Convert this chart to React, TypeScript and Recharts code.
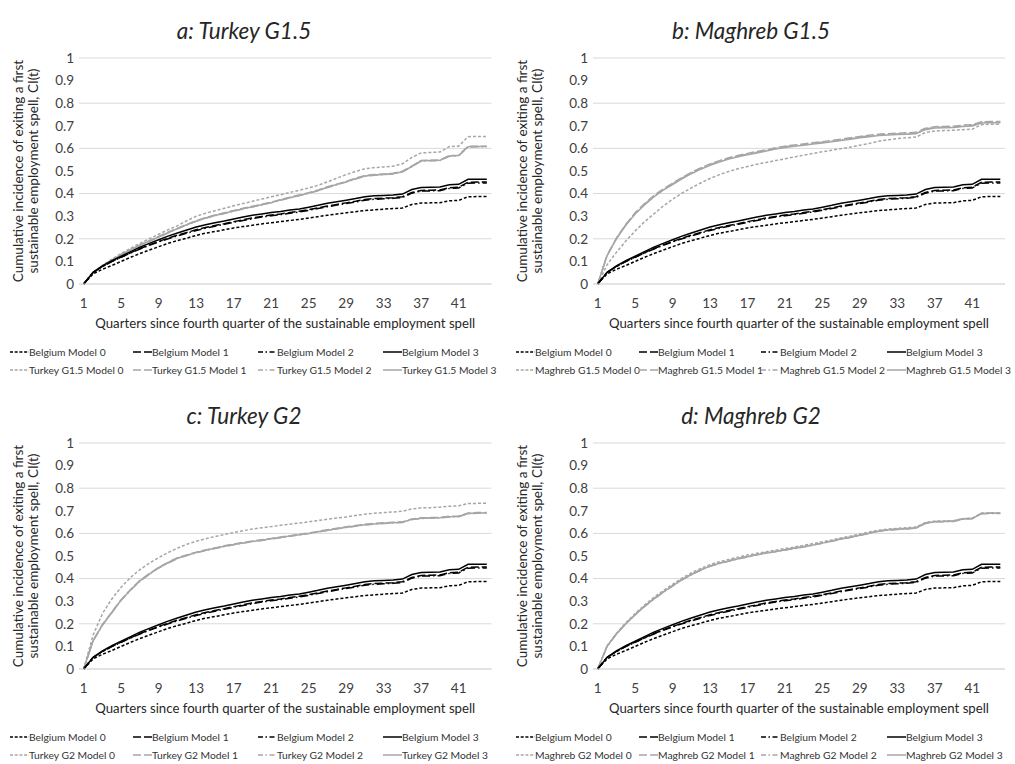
import React from 'react';
import { LineChart, Line, XAxis, YAxis, CartesianGrid } from 'recharts';

const QUARTERS = [
  1, 2, 3, 4, 5, 6, 7, 8, 9, 10, 11, 12, 13, 14, 15, 16, 17, 18, 19, 20, 21, 22,
  23, 24, 25, 26, 27, 28, 29, 30, 31, 32, 33, 34, 35, 36, 37, 38, 39, 40, 41, 42, 43, 44,
];
const Y_TICKS = [0, 0.1, 0.2, 0.3, 0.4, 0.5, 0.6, 0.7, 0.8, 0.9, 1];

// Belgium reference curves (same in all four panels)
const BELGIUM_M0 = [0, 0.045, 0.065, 0.082, 0.1, 0.118, 0.135, 0.15, 0.165, 0.18, 0.192, 0.203, 0.215, 0.225, 0.232, 0.24, 0.248, 0.254, 0.26, 0.266, 0.271, 0.276, 0.281, 0.286, 0.292, 0.298, 0.304, 0.31, 0.315, 0.32, 0.325, 0.328, 0.331, 0.334, 0.336, 0.352, 0.358, 0.359, 0.36, 0.368, 0.37, 0.386, 0.387, 0.387];
const BELGIUM_M1 = [0, 0.051, 0.078, 0.1, 0.119, 0.138, 0.157, 0.173, 0.188, 0.203, 0.216, 0.228, 0.24, 0.25, 0.259, 0.267, 0.276, 0.284, 0.292, 0.299, 0.305, 0.31, 0.316, 0.322, 0.329, 0.337, 0.345, 0.352, 0.359, 0.366, 0.374, 0.378, 0.38, 0.382, 0.386, 0.405, 0.414, 0.415, 0.416, 0.426, 0.428, 0.45, 0.451, 0.451];
const BELGIUM_M2 = [0, 0.051, 0.077, 0.099, 0.118, 0.137, 0.155, 0.171, 0.186, 0.2, 0.213, 0.225, 0.237, 0.247, 0.256, 0.264, 0.273, 0.281, 0.289, 0.296, 0.302, 0.307, 0.313, 0.319, 0.326, 0.334, 0.342, 0.349, 0.356, 0.363, 0.371, 0.375, 0.377, 0.379, 0.383, 0.402, 0.411, 0.412, 0.413, 0.423, 0.425, 0.446, 0.447, 0.447];
const BELGIUM_M3 = [0, 0.052, 0.08, 0.103, 0.123, 0.143, 0.163, 0.18, 0.196, 0.212, 0.226, 0.239, 0.252, 0.262, 0.271, 0.279, 0.288, 0.296, 0.304, 0.31, 0.316, 0.321, 0.327, 0.332, 0.34, 0.348, 0.357, 0.364, 0.371, 0.378, 0.386, 0.39, 0.392, 0.394, 0.398, 0.418, 0.427, 0.428, 0.429, 0.439, 0.441, 0.463, 0.464, 0.464];

// a: Turkey G1.5
const TURKEY_G15_M0 = [0, 0.052, 0.083, 0.11, 0.135, 0.158, 0.18, 0.2, 0.22, 0.24, 0.258, 0.28, 0.3, 0.313, 0.324, 0.335, 0.346, 0.356, 0.366, 0.376, 0.386, 0.395, 0.405, 0.415, 0.425, 0.437, 0.452, 0.468, 0.484, 0.498, 0.51, 0.515, 0.518, 0.521, 0.532, 0.56, 0.58, 0.582, 0.584, 0.608, 0.61, 0.652, 0.653, 0.653];
const TURKEY_G15_M1 = [0, 0.05, 0.081, 0.106, 0.131, 0.153, 0.173, 0.191, 0.21, 0.229, 0.247, 0.264, 0.28, 0.294, 0.305, 0.315, 0.325, 0.335, 0.344, 0.353, 0.362, 0.374, 0.384, 0.394, 0.404, 0.416, 0.43, 0.442, 0.454, 0.468, 0.48, 0.484, 0.487, 0.49, 0.499, 0.522, 0.547, 0.548, 0.549, 0.568, 0.57, 0.609, 0.61, 0.61];
const TURKEY_G15_M2 = [0, 0.05, 0.08, 0.105, 0.129, 0.151, 0.171, 0.189, 0.207, 0.226, 0.244, 0.261, 0.277, 0.291, 0.302, 0.312, 0.322, 0.332, 0.341, 0.35, 0.359, 0.371, 0.381, 0.391, 0.401, 0.413, 0.427, 0.439, 0.451, 0.465, 0.477, 0.481, 0.484, 0.487, 0.496, 0.519, 0.544, 0.545, 0.546, 0.565, 0.567, 0.606, 0.607, 0.607];
const TURKEY_G15_M3 = [0, 0.05, 0.08, 0.105, 0.13, 0.152, 0.172, 0.19, 0.208, 0.227, 0.245, 0.262, 0.278, 0.292, 0.303, 0.313, 0.323, 0.333, 0.342, 0.351, 0.36, 0.372, 0.382, 0.392, 0.402, 0.414, 0.428, 0.44, 0.452, 0.466, 0.478, 0.482, 0.485, 0.488, 0.497, 0.52, 0.545, 0.546, 0.547, 0.566, 0.568, 0.607, 0.608, 0.608];

// b: Maghreb G1.5
const MAGHREB_G15_M0 = [0, 0.085, 0.14, 0.19, 0.235, 0.275, 0.31, 0.345, 0.375, 0.402, 0.425, 0.447, 0.467, 0.484, 0.498, 0.51, 0.52, 0.53, 0.538, 0.546, 0.554, 0.562, 0.57, 0.578, 0.585, 0.592, 0.599, 0.606, 0.614, 0.622, 0.632, 0.638, 0.643, 0.647, 0.65, 0.67, 0.677, 0.679, 0.68, 0.683, 0.685, 0.705, 0.707, 0.707];
const MAGHREB_G15_M1 = [0, 0.127, 0.203, 0.264, 0.315, 0.356, 0.391, 0.421, 0.446, 0.471, 0.494, 0.514, 0.531, 0.546, 0.559, 0.569, 0.578, 0.586, 0.594, 0.603, 0.61, 0.615, 0.62, 0.625, 0.63, 0.635, 0.641, 0.647, 0.653, 0.658, 0.663, 0.665, 0.667, 0.669, 0.671, 0.689, 0.696, 0.697, 0.698, 0.703, 0.705, 0.718, 0.719, 0.719];
const MAGHREB_G15_M2 = [0, 0.126, 0.202, 0.262, 0.313, 0.353, 0.388, 0.418, 0.443, 0.468, 0.491, 0.511, 0.528, 0.543, 0.556, 0.566, 0.575, 0.583, 0.591, 0.6, 0.607, 0.612, 0.617, 0.622, 0.627, 0.632, 0.638, 0.644, 0.65, 0.655, 0.66, 0.662, 0.664, 0.666, 0.668, 0.686, 0.693, 0.694, 0.695, 0.7, 0.702, 0.715, 0.716, 0.716];
const MAGHREB_G15_M3 = [0, 0.125, 0.2, 0.26, 0.31, 0.35, 0.385, 0.415, 0.44, 0.465, 0.488, 0.508, 0.525, 0.54, 0.553, 0.563, 0.572, 0.58, 0.588, 0.597, 0.604, 0.609, 0.614, 0.619, 0.624, 0.629, 0.635, 0.641, 0.647, 0.652, 0.657, 0.659, 0.661, 0.663, 0.665, 0.683, 0.69, 0.691, 0.692, 0.697, 0.699, 0.712, 0.713, 0.713];

// c: Turkey G2
const TURKEY_G2_M0 = [0, 0.15, 0.245, 0.31, 0.362, 0.405, 0.44, 0.468, 0.493, 0.515, 0.535, 0.552, 0.565, 0.576, 0.586, 0.595, 0.604, 0.612, 0.619, 0.625, 0.63, 0.636, 0.641, 0.646, 0.651, 0.657, 0.663, 0.668, 0.673, 0.679, 0.685, 0.689, 0.692, 0.695, 0.698, 0.708, 0.713, 0.714, 0.716, 0.72, 0.722, 0.732, 0.733, 0.733];
const TURKEY_G2_M1 = [0, 0.126, 0.197, 0.252, 0.307, 0.352, 0.392, 0.422, 0.45, 0.472, 0.492, 0.505, 0.517, 0.527, 0.536, 0.545, 0.553, 0.56, 0.566, 0.572, 0.578, 0.584, 0.59, 0.596, 0.602, 0.609, 0.616, 0.623, 0.629, 0.635, 0.64, 0.644, 0.647, 0.649, 0.651, 0.664, 0.669, 0.67, 0.671, 0.676, 0.677, 0.69, 0.692, 0.692];
const TURKEY_G2_M2 = [0, 0.124, 0.194, 0.249, 0.304, 0.349, 0.389, 0.419, 0.447, 0.469, 0.489, 0.502, 0.514, 0.524, 0.533, 0.542, 0.55, 0.557, 0.563, 0.569, 0.575, 0.581, 0.587, 0.593, 0.599, 0.606, 0.613, 0.62, 0.626, 0.632, 0.637, 0.641, 0.644, 0.646, 0.648, 0.661, 0.666, 0.667, 0.668, 0.673, 0.674, 0.687, 0.689, 0.689];
const TURKEY_G2_M3 = [0, 0.125, 0.195, 0.25, 0.305, 0.35, 0.39, 0.42, 0.448, 0.47, 0.49, 0.503, 0.515, 0.525, 0.534, 0.543, 0.551, 0.558, 0.564, 0.57, 0.576, 0.582, 0.588, 0.594, 0.6, 0.607, 0.614, 0.621, 0.627, 0.633, 0.638, 0.642, 0.645, 0.647, 0.649, 0.662, 0.667, 0.668, 0.669, 0.674, 0.675, 0.688, 0.69, 0.69];

// d: Maghreb G2
const MAGHREB_G2_M0 = [0, 0.102, 0.158, 0.204, 0.245, 0.283, 0.317, 0.347, 0.375, 0.402, 0.425, 0.445, 0.462, 0.475, 0.485, 0.495, 0.504, 0.512, 0.519, 0.526, 0.533, 0.54, 0.547, 0.555, 0.563, 0.571, 0.58, 0.588, 0.597, 0.606, 0.614, 0.619, 0.622, 0.625, 0.628, 0.648, 0.654, 0.655, 0.656, 0.665, 0.667, 0.689, 0.69, 0.69];
const MAGHREB_G2_M1 = [0, 0.101, 0.156, 0.201, 0.241, 0.278, 0.311, 0.341, 0.369, 0.396, 0.419, 0.439, 0.456, 0.469, 0.479, 0.489, 0.498, 0.507, 0.514, 0.521, 0.528, 0.535, 0.542, 0.55, 0.558, 0.567, 0.576, 0.584, 0.593, 0.602, 0.611, 0.616, 0.619, 0.622, 0.625, 0.646, 0.653, 0.654, 0.655, 0.665, 0.667, 0.689, 0.69, 0.69];
const MAGHREB_G2_M2 = [0, 0.1, 0.155, 0.2, 0.24, 0.276, 0.309, 0.339, 0.367, 0.394, 0.417, 0.437, 0.454, 0.467, 0.477, 0.487, 0.496, 0.505, 0.512, 0.519, 0.526, 0.533, 0.54, 0.548, 0.556, 0.565, 0.574, 0.582, 0.591, 0.6, 0.609, 0.614, 0.617, 0.62, 0.623, 0.644, 0.651, 0.652, 0.653, 0.663, 0.665, 0.687, 0.688, 0.688];
const MAGHREB_G2_M3 = [0, 0.1, 0.155, 0.2, 0.24, 0.277, 0.31, 0.34, 0.368, 0.395, 0.418, 0.438, 0.455, 0.468, 0.478, 0.488, 0.497, 0.506, 0.513, 0.52, 0.527, 0.534, 0.541, 0.549, 0.557, 0.566, 0.575, 0.583, 0.592, 0.601, 0.61, 0.615, 0.618, 0.621, 0.624, 0.645, 0.652, 0.653, 0.654, 0.664, 0.666, 0.688, 0.689, 0.689];

const FONT = 'Lato, "Open Sans", sans-serif';
const BLACK = '#000000';
const GREY = '#a6a6a6';
const DASHES = ['3 2', '8 3', '8 3 1.5 3', undefined];
const LEGEND_DASHES = ['3 1.7', '8 3', '5 2.5 1.5 2.5', undefined];

const PANELS = [
  { key: 'a', title: 'a: Turkey G1.5', group: 'Turkey G1.5', series: [TURKEY_G15_M0, TURKEY_G15_M1, TURKEY_G15_M2, TURKEY_G15_M3], left: 0, top: 0, plotLeft: 79, plotRight: 491.5, yLabelX: 25, titleX: 244, legendCols: [10, 133, 258, 383] },
  { key: 'b', title: 'b: Maghreb G1.5', group: 'Maghreb G1.5', series: [MAGHREB_G15_M0, MAGHREB_G15_M1, MAGHREB_G15_M2, MAGHREB_G15_M3], left: 505, top: 0, plotLeft: 593, plotRight: 1005, yLabelX: 529, titleX: 751, legendCols: [516, 639, 761, 887] },
  { key: 'c', title: 'c: Turkey G2', group: 'Turkey G2', series: [TURKEY_G2_M0, TURKEY_G2_M1, TURKEY_G2_M2, TURKEY_G2_M3], left: 0, top: 385, plotLeft: 79, plotRight: 491.5, yLabelX: 25, titleX: 244, legendCols: [10, 133, 258, 383] },
  { key: 'd', title: 'd: Maghreb G2', group: 'Maghreb G2', series: [MAGHREB_G2_M0, MAGHREB_G2_M1, MAGHREB_G2_M2, MAGHREB_G2_M3], left: 505, top: 385, plotLeft: 593, plotRight: 1005, yLabelX: 529, titleX: 751, legendCols: [516, 639, 761, 887] },
];

const PLOT_TOP = 58;
const PLOT_BOTTOM = 284;
const CHART_H = 340;

const LegendItem = ({ x, y, color, dash, label }: any) => (
  <div
    style={{
      position: 'absolute',
      left: x,
      top: y,
      transform: 'translateY(-50%)',
      display: 'flex',
      alignItems: 'center',
      whiteSpace: 'nowrap',
      fontSize: 10.3,
      color: '#333',
    }}
  >
    <svg width={19} height={6} style={{ display: 'block' }}>
      <line x1={0} y1={3} x2={19} y2={3} stroke={color} strokeWidth={1.5} strokeDasharray={dash} />
    </svg>
    <span>{label}</span>
  </div>
);

const Panel = ({ p }: any) => {
  const data = QUARTERS.map((q, i) => ({
    q,
    b0: BELGIUM_M0[i],
    b1: BELGIUM_M1[i],
    b2: BELGIUM_M2[i],
    b3: BELGIUM_M3[i],
    g0: p.series[0][i],
    g1: p.series[1][i],
    g2: p.series[2][i],
    g3: p.series[3][i],
  }));
  const yAxisWidth = p.plotLeft - p.left;
  const chartW = p.plotRight - p.left + 4;
  const plotMid = (p.plotLeft + p.plotRight) / 2;

  return (
    <>
      <div
        style={{
          position: 'absolute',
          left: p.titleX,
          top: p.top + 30,
          transform: 'translate(-50%, -50%)',
          fontStyle: 'italic',
          fontSize: 22.5,
          color: '#262626',
          whiteSpace: 'nowrap',
        }}
      >
        {p.title}
      </div>
      <div style={{ position: 'absolute', left: p.left, top: p.top }}>
        <LineChart
          width={chartW}
          height={CHART_H}
          data={data}
          margin={{ top: PLOT_TOP, right: 4, left: 0, bottom: CHART_H - PLOT_BOTTOM - 30 }}
        >
          <CartesianGrid vertical={false} stroke="#d9d9d9" />
          <XAxis
            dataKey="q"
            interval={3}
            tickLine={false}
            axisLine={{ stroke: '#d9d9d9' }}
            padding={{ left: 4.7, right: 4.7 }}
            tick={{ fontSize: 13.5, fill: '#404040', fontFamily: FONT }}
            tickSize={6}
            tickMargin={8}
            height={30}
          />
          <YAxis
            domain={[0, 1]}
            ticks={Y_TICKS}
            width={yAxisWidth}
            tickLine={false}
            axisLine={false}
            tickSize={3}
            tickMargin={2}
            tick={{ fontSize: 13.5, fill: '#404040', fontFamily: FONT }}
          />
          {[0, 1, 2, 3].map((m) => (
            <Line
              key={'g' + m}
              type="linear"
              dataKey={'g' + m}
              stroke={GREY}
              strokeWidth={1.5}
              strokeDasharray={DASHES[m]}
              dot={false}
              isAnimationActive={false}
            />
          ))}
          {[0, 1, 2, 3].map((m) => (
            <Line
              key={'b' + m}
              type="linear"
              dataKey={'b' + m}
              stroke={BLACK}
              strokeWidth={1.5}
              strokeDasharray={DASHES[m]}
              dot={false}
              isAnimationActive={false}
            />
          ))}
        </LineChart>
      </div>
      <div
        style={{
          position: 'absolute',
          left: p.yLabelX,
          top: p.top + (PLOT_TOP + PLOT_BOTTOM) / 2,
          transform: 'translate(-50%, -50%) rotate(-90deg)',
          fontSize: 13.5,
          lineHeight: '14.5px',
          textAlign: 'center',
          whiteSpace: 'nowrap',
          color: '#262626',
        }}
      >
        Cumulative incidence of exiting a first
        <br />
        sustainable employment spell, CI(t)
      </div>
      <div
        style={{
          position: 'absolute',
          left: plotMid,
          top: p.top + 323,
          transform: 'translate(-50%, -50%)',
          fontSize: 13.2,
          whiteSpace: 'nowrap',
          color: '#262626',
        }}
      >
        Quarters since fourth quarter of the sustainable employment spell
      </div>
      {[0, 1, 2, 3].map((m) => (
        <LegendItem
          key={'lb' + m}
          x={p.legendCols[m]}
          y={p.top + 352}
          color={BLACK}
          dash={LEGEND_DASHES[m]}
          label={`Belgium Model ${m}`}
        />
      ))}
      {[0, 1, 2, 3].map((m) => (
        <LegendItem
          key={'lg' + m}
          x={p.legendCols[m]}
          y={p.top + 370}
          color={GREY}
          dash={LEGEND_DASHES[m]}
          label={`${p.group} Model ${m}`}
        />
      ))}
    </>
  );
};

export default function App() {
  return (
    <div
      style={{
        position: 'absolute',
        left: 0,
        top: 0,
        width: 1015,
        height: 764,
        background: '#ffffff',
        fontFamily: FONT,
        overflow: 'hidden',
      }}
    >
      {PANELS.map((p) => (
        <Panel key={p.key} p={p} />
      ))}
    </div>
  );
}
